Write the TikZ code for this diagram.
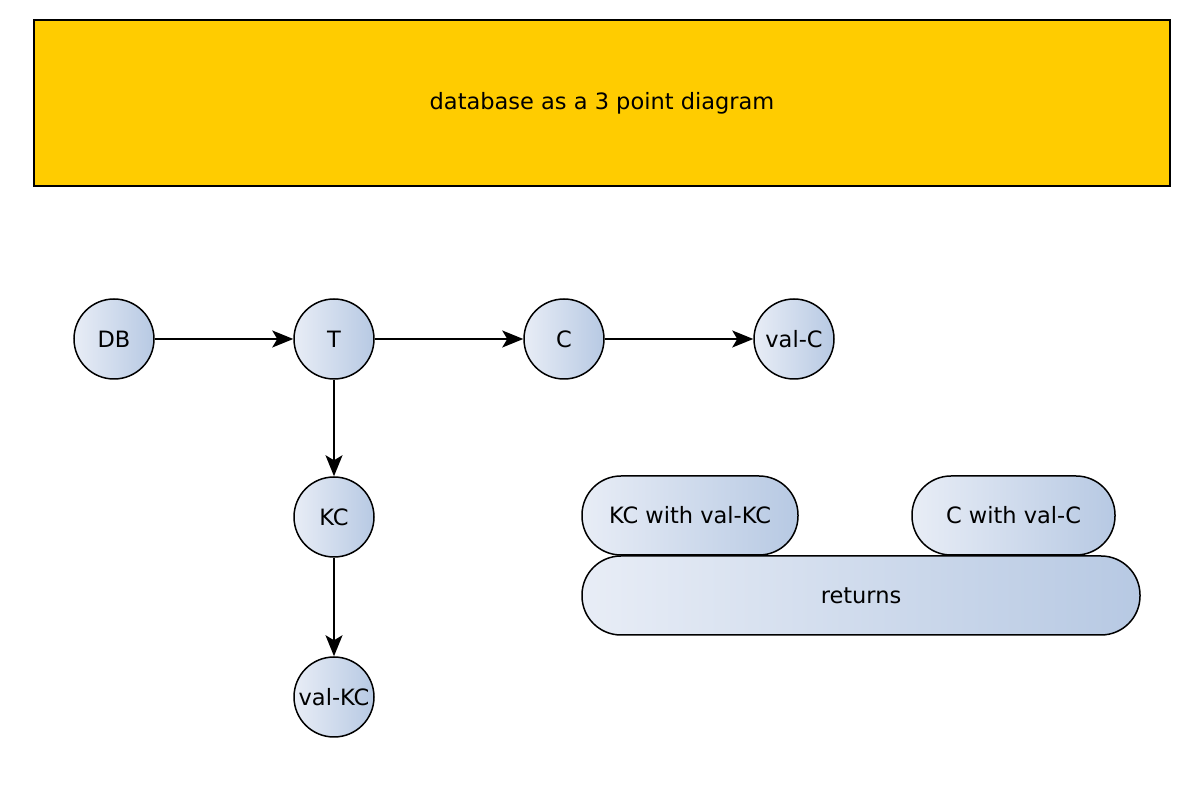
\documentclass[tikz,border=0pt]{standalone}
\usepackage{fontspec}
\setmainfont{DejaVu Sans}
\usetikzlibrary{arrows.meta,shapes.misc}
\definecolor{banner}{HTML}{FFCC00}
\definecolor{gLight}{HTML}{E8EDF6}
\definecolor{gDark}{HTML}{B7C9E3}
\tikzset{
  every picture/.style={x=1pt,y=1pt},
  txt/.style={font=\fontsize{22.5}{26}\selectfont},
  circ/.style={circle,draw=black,line width=1.5pt,minimum size=80pt,inner sep=0pt,
    left color=gLight,right color=gDark,txt},
  pill/.style={rectangle,rounded corners=39pt,draw=black,line width=1.5pt,minimum height=79pt,inner sep=0pt,
    left color=gLight,right color=gDark,txt},
  conn/.style={line width=1.5pt,-{Stealth[length=21pt,width=17pt,inset=5pt]}}
}
\begin{document}
\begin{tikzpicture}
\useasboundingbox (0,0) rectangle (1194,792);
\node[rectangle,draw=black,line width=1.5pt,fill=banner,minimum width=1136pt,minimum height=166pt,
  inner sep=0pt,txt] (title) at (602,689) {database as a 3 point diagram};
\node[circ] (db) at (114,453) {DB};
\node[circ] (t) at (334,453) {T};
\node[circ] (c) at (564,453) {C};
\node[circ] (valc) at (794,453) {val-C};
\node[circ] (kc) at (334,275) {KC};
\node[circ] (valkc) at (334,95) {val-KC};
\node[pill,minimum width=216pt] (kcw) at (690,276.5) {KC with val-KC};
\node[pill,minimum width=203pt] (cw) at (1013.5,276.5) {C with val-C};
\node[pill,minimum width=558pt] (ret) at (861,196.5) {returns};
\draw[conn] (db) -- (t);
\draw[conn] (t) -- (c);
\draw[conn] (c) -- (valc);
\draw[conn] (t) -- (kc);
\draw[conn] (kc) -- (valkc);
\end{tikzpicture}
\end{document}
